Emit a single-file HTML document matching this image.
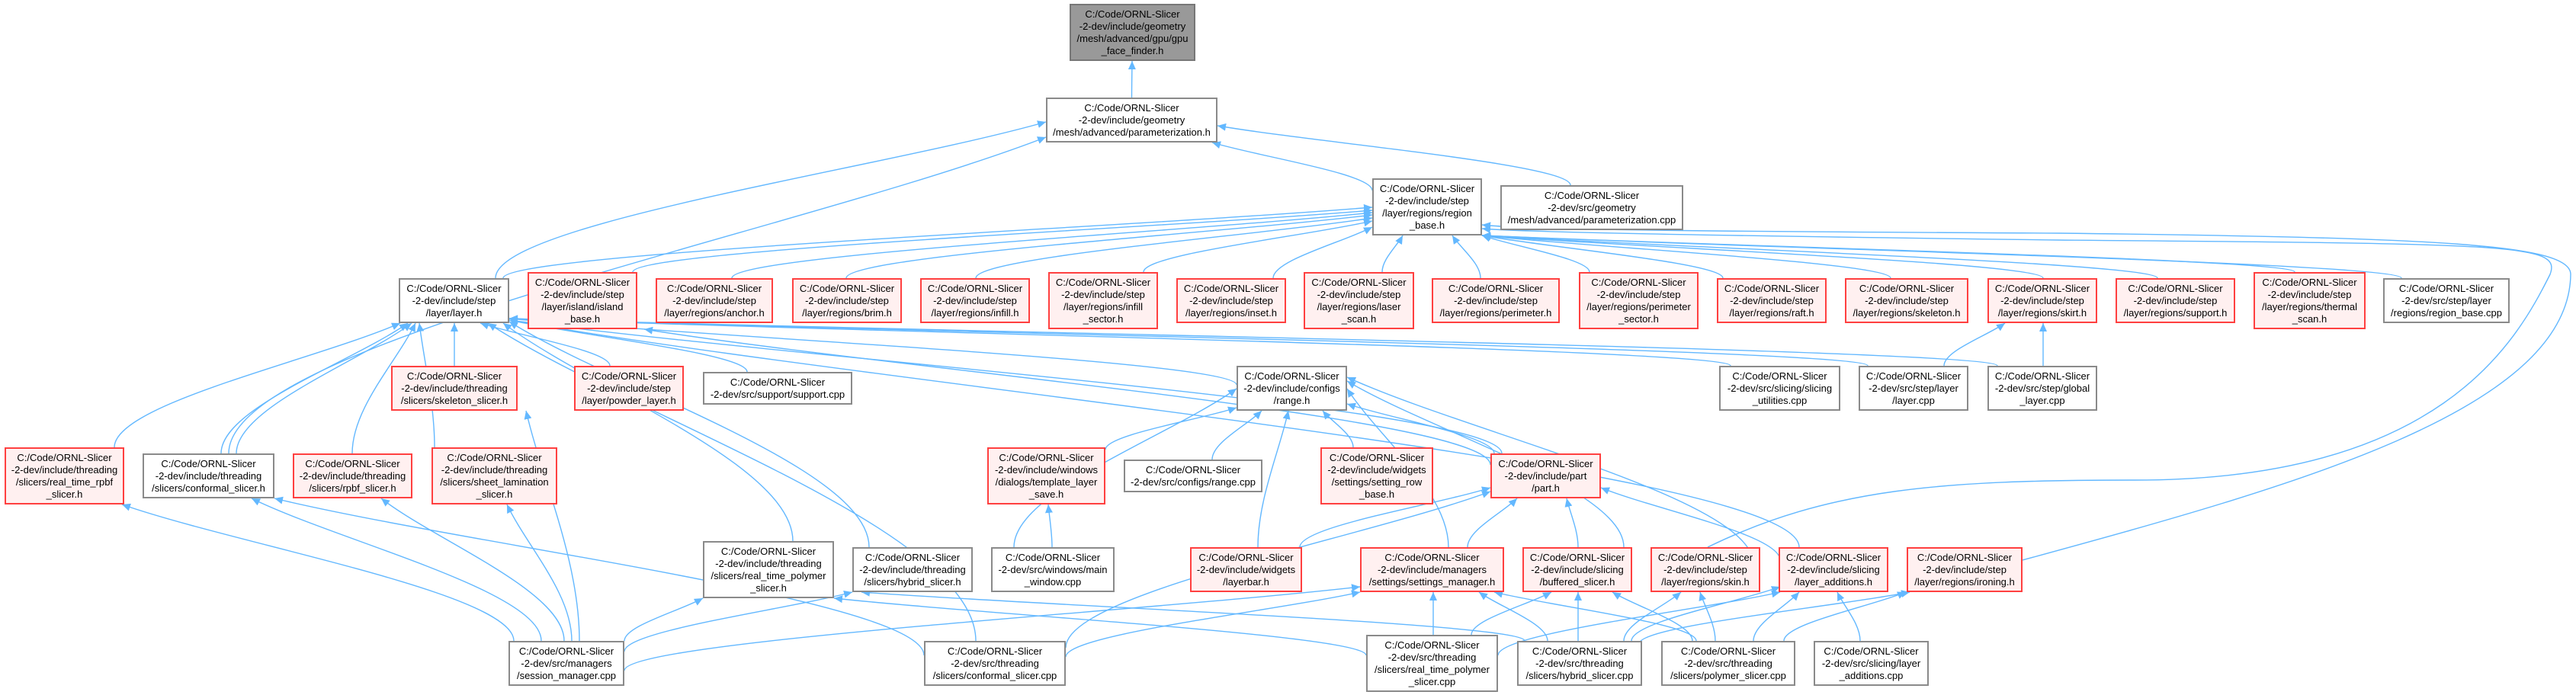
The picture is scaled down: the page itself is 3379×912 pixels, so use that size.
<!DOCTYPE html>
<html><head><meta charset="utf-8">
<style>
html,body{margin:0;padding:0;background:#fff;}
body{width:3379px;height:912px;position:relative;overflow:hidden;font-family:"Liberation Sans",Arial,sans-serif;}
svg{position:absolute;left:0;top:0;}
.n{position:absolute;box-sizing:border-box;border:2px solid #8a8a8a;background:#fff;font-size:13px;line-height:16px;color:#000;display:flex;align-items:center;justify-content:center;text-align:center;white-space:nowrap;}
.r{border-color:#ff4040;background:#fff0f0;}
.g{background:#999;border-color:#777;}
</style></head><body>
<svg id="s" width="3379" height="912" viewBox="0 0 3379 912">
<defs><marker id="a" markerWidth="12" markerHeight="12" refX="11" refY="5" orient="auto" markerUnits="userSpaceOnUse"><path d="M0,0 L11,5 L0,10 z" fill="#63b8ff"/></marker></defs>
<g id="e" fill="none" stroke="#63b8ff" stroke-width="1.4"></g>
</svg>
<div class="n g" style="left:1403px;top:5px;width:165px;height:75px">C:/Code/ORNL-Slicer<br>-2-dev/include/geometry<br>/mesh/advanced/gpu/gpu<br>_face_finder.h</div>
<div class="n" style="left:1372px;top:128px;width:225px;height:59px">C:/Code/ORNL-Slicer<br>-2-dev/include/geometry<br>/mesh/advanced/parameterization.h</div>
<div class="n" style="left:1800px;top:234px;width:144px;height:75px">C:/Code/ORNL-Slicer<br>-2-dev/include/step<br>/layer/regions/region<br>_base.h</div>
<div class="n" style="left:1968px;top:243px;width:240px;height:59px">C:/Code/ORNL-Slicer<br>-2-dev/src/geometry<br>/mesh/advanced/parameterization.cpp</div>

<div class="n" style="left:523px;top:365px;width:145px;height:59px">C:/Code/ORNL-Slicer<br>-2-dev/include/step<br>/layer/layer.h</div>
<div class="n r" style="left:692px;top:357px;width:144px;height:75px">C:/Code/ORNL-Slicer<br>-2-dev/include/step<br>/layer/island/island<br>_base.h</div>
<div class="n r" style="left:860px;top:365px;width:154px;height:59px">C:/Code/ORNL-Slicer<br>-2-dev/include/step<br>/layer/regions/anchor.h</div>
<div class="n r" style="left:1039px;top:365px;width:144px;height:59px">C:/Code/ORNL-Slicer<br>-2-dev/include/step<br>/layer/regions/brim.h</div>
<div class="n r" style="left:1207px;top:365px;width:144px;height:59px">C:/Code/ORNL-Slicer<br>-2-dev/include/step<br>/layer/regions/infill.h</div>
<div class="n r" style="left:1375px;top:357px;width:144px;height:75px">C:/Code/ORNL-Slicer<br>-2-dev/include/step<br>/layer/regions/infill<br>_sector.h</div>
<div class="n r" style="left:1543px;top:365px;width:144px;height:59px">C:/Code/ORNL-Slicer<br>-2-dev/include/step<br>/layer/regions/inset.h</div>
<div class="n r" style="left:1710px;top:357px;width:145px;height:75px">C:/Code/ORNL-Slicer<br>-2-dev/include/step<br>/layer/regions/laser<br>_scan.h</div>
<div class="n r" style="left:1878px;top:365px;width:168px;height:59px">C:/Code/ORNL-Slicer<br>-2-dev/include/step<br>/layer/regions/perimeter.h</div>
<div class="n r" style="left:2071px;top:357px;width:157px;height:75px">C:/Code/ORNL-Slicer<br>-2-dev/include/step<br>/layer/regions/perimeter<br>_sector.h</div>
<div class="n r" style="left:2252px;top:365px;width:144px;height:59px">C:/Code/ORNL-Slicer<br>-2-dev/include/step<br>/layer/regions/raft.h</div>
<div class="n r" style="left:2420px;top:365px;width:162px;height:59px">C:/Code/ORNL-Slicer<br>-2-dev/include/step<br>/layer/regions/skeleton.h</div>
<div class="n r" style="left:2607px;top:365px;width:144px;height:59px">C:/Code/ORNL-Slicer<br>-2-dev/include/step<br>/layer/regions/skirt.h</div>
<div class="n r" style="left:2775px;top:365px;width:157px;height:59px">C:/Code/ORNL-Slicer<br>-2-dev/include/step<br>/layer/regions/support.h</div>
<div class="n r" style="left:2956px;top:357px;width:147px;height:75px">C:/Code/ORNL-Slicer<br>-2-dev/include/step<br>/layer/regions/thermal<br>_scan.h</div>
<div class="n" style="left:3126px;top:365px;width:166px;height:59px">C:/Code/ORNL-Slicer<br>-2-dev/src/step/layer<br>/regions/region_base.cpp</div>

<div class="n r" style="left:513px;top:480px;width:166px;height:59px">C:/Code/ORNL-Slicer<br>-2-dev/include/threading<br>/slicers/skeleton_slicer.h</div>
<div class="n r" style="left:753px;top:480px;width:144px;height:59px">C:/Code/ORNL-Slicer<br>-2-dev/include/step<br>/layer/powder_layer.h</div>
<div class="n" style="left:922px;top:488px;width:196px;height:43px">C:/Code/ORNL-Slicer<br>-2-dev/src/support/support.cpp</div>
<div class="n" style="left:1622px;top:480px;width:145px;height:59px">C:/Code/ORNL-Slicer<br>-2-dev/include/configs<br>/range.h</div>
<div class="n" style="left:2255px;top:480px;width:159px;height:59px">C:/Code/ORNL-Slicer<br>-2-dev/src/slicing/slicing<br>_utilities.cpp</div>
<div class="n" style="left:2438px;top:480px;width:144px;height:59px">C:/Code/ORNL-Slicer<br>-2-dev/src/step/layer<br>/layer.cpp</div>
<div class="n" style="left:2607px;top:480px;width:144px;height:59px">C:/Code/ORNL-Slicer<br>-2-dev/src/step/global<br>_layer.cpp</div>

<div class="n r" style="left:6px;top:587px;width:157px;height:75px">C:/Code/ORNL-Slicer<br>-2-dev/include/threading<br>/slicers/real_time_rpbf<br>_slicer.h</div>
<div class="n" style="left:187px;top:595px;width:173px;height:59px">C:/Code/ORNL-Slicer<br>-2-dev/include/threading<br>/slicers/conformal_slicer.h</div>
<div class="n r" style="left:384px;top:595px;width:157px;height:59px">C:/Code/ORNL-Slicer<br>-2-dev/include/threading<br>/slicers/rpbf_slicer.h</div>
<div class="n r" style="left:566px;top:587px;width:165px;height:75px">C:/Code/ORNL-Slicer<br>-2-dev/include/threading<br>/slicers/sheet_lamination<br>_slicer.h</div>
<div class="n r" style="left:1295px;top:587px;width:155px;height:75px">C:/Code/ORNL-Slicer<br>-2-dev/include/windows<br>/dialogs/template_layer<br>_save.h</div>
<div class="n" style="left:1474px;top:603px;width:182px;height:43px">C:/Code/ORNL-Slicer<br>-2-dev/src/configs/range.cpp</div>
<div class="n r" style="left:1732px;top:587px;width:148px;height:75px">C:/Code/ORNL-Slicer<br>-2-dev/include/widgets<br>/settings/setting_row<br>_base.h</div>
<div class="n r" style="left:1955px;top:595px;width:145px;height:59px">C:/Code/ORNL-Slicer<br>-2-dev/include/part<br>/part.h</div>

<div class="n" style="left:922px;top:710px;width:172px;height:75px">C:/Code/ORNL-Slicer<br>-2-dev/include/threading<br>/slicers/real_time_polymer<br>_slicer.h</div>
<div class="n" style="left:1118px;top:718px;width:158px;height:59px">C:/Code/ORNL-Slicer<br>-2-dev/include/threading<br>/slicers/hybrid_slicer.h</div>
<div class="n" style="left:1300px;top:718px;width:162px;height:59px">C:/Code/ORNL-Slicer<br>-2-dev/src/windows/main<br>_window.cpp</div>
<div class="n r" style="left:1561px;top:718px;width:147px;height:59px">C:/Code/ORNL-Slicer<br>-2-dev/include/widgets<br>/layerbar.h</div>
<div class="n r" style="left:1784px;top:718px;width:189px;height:59px">C:/Code/ORNL-Slicer<br>-2-dev/include/managers<br>/settings/settings_manager.h</div>
<div class="n r" style="left:1997px;top:718px;width:144px;height:59px">C:/Code/ORNL-Slicer<br>-2-dev/include/slicing<br>/buffered_slicer.h</div>
<div class="n r" style="left:2165px;top:718px;width:144px;height:59px">C:/Code/ORNL-Slicer<br>-2-dev/include/step<br>/layer/regions/skin.h</div>
<div class="n r" style="left:2333px;top:718px;width:144px;height:59px">C:/Code/ORNL-Slicer<br>-2-dev/include/slicing<br>/layer_additions.h</div>
<div class="n r" style="left:2501px;top:718px;width:152px;height:59px">C:/Code/ORNL-Slicer<br>-2-dev/include/step<br>/layer/regions/ironing.h</div>

<div class="n" style="left:667px;top:841px;width:152px;height:59px">C:/Code/ORNL-Slicer<br>-2-dev/src/managers<br>/session_manager.cpp</div>
<div class="n" style="left:1212px;top:841px;width:186px;height:59px">C:/Code/ORNL-Slicer<br>-2-dev/src/threading<br>/slicers/conformal_slicer.cpp</div>
<div class="n" style="left:1792px;top:833px;width:173px;height:75px">C:/Code/ORNL-Slicer<br>-2-dev/src/threading<br>/slicers/real_time_polymer<br>_slicer.cpp</div>
<div class="n" style="left:1990px;top:841px;width:164px;height:59px">C:/Code/ORNL-Slicer<br>-2-dev/src/threading<br>/slicers/hybrid_slicer.cpp</div>
<div class="n" style="left:2179px;top:841px;width:176px;height:59px">C:/Code/ORNL-Slicer<br>-2-dev/src/threading<br>/slicers/polymer_slicer.cpp</div>
<div class="n" style="left:2379px;top:841px;width:151px;height:59px">C:/Code/ORNL-Slicer<br>-2-dev/src/slicing/layer<br>_additions.cpp</div>

<script>
var N={gpu:[1403,5,1568,80],ph:[1372,128,1597,187],rb:[1800,234,1944,309],pc:[1968,243,2208,302],
layer:[523,365,668,424],island:[692,357,836,432],anchor:[860,365,1014,424],brim:[1039,365,1183,424],infill:[1207,365,1351,424],infs:[1375,357,1519,432],inset:[1543,365,1687,424],laser:[1710,357,1855,432],perim:[1878,365,2046,424],pers:[2071,357,2228,432],raft:[2252,365,2396,424],skel:[2420,365,2582,424],skirt:[2607,365,2751,424],supp:[2775,365,2932,424],therm:[2956,357,3103,432],rbc:[3126,365,3292,424],
skels:[513,480,679,539],powder:[753,480,897,539],suppc:[922,488,1118,531],range:[1622,480,1767,539],su:[2255,480,2414,539],lcpp:[2438,480,2582,539],gl:[2607,480,2751,539],
rtr:[6,587,163,662],confh:[187,595,360,654],rpbf:[384,595,541,654],sheet:[566,587,731,662],tmpl:[1295,587,1450,662],rcpp:[1474,603,1656,646],srow:[1732,587,1880,662],part:[1955,595,2100,654],
rtph:[922,710,1094,785],hyh:[1118,718,1276,777],mw:[1300,718,1462,777],lbar:[1561,718,1708,777],sm:[1784,718,1973,777],buf:[1997,718,2141,777],skin:[2165,718,2309,777],la:[2333,718,2477,777],iron:[2501,718,2653,777],
sess:[667,841,819,900],confc:[1212,841,1398,900],rtpc:[1792,833,1965,908],hyc:[1990,841,2154,900],polc:[2179,841,2355,900],lac:[2379,841,2530,900]};
function cx(n){return (N[n][0]+N[n][2])/2}
var E=[
['ph','gpu',0,0,1485,80],
['layer','ph',650,365,1372,160],['confh','ph',300,595,1372,180],['rb','ph',1800,250,1590,187],['pc','ph',2060,243,1597,165],
['layer','rb',660,365,1800,272],['island','rb',830,357,1800,276],['anchor','rb',960,365,1800,279],['brim','rb',1110,365,1800,282],['infill','rb',1280,365,1800,286],['infs','rb',1500,357,1800,290],['inset','rb',1670,365,1800,298],['laser','rb',1813,357,1840,309],['perim','rb',1942,365,1905,309],['pers','rb',2085,357,1944,309],['raft','rb',2260,365,1944,309],['skel','rb',2480,365,1944,309],['skirt','rb',2680,365,1944,309],['supp','rb',2830,365,1944,309],['therm','rb',3010,357,1944,309],['rbc','rb',3150,365,1944,309],
['rtr','layer',150,587,525,424],['confh','layer',290,595,535,424],['confh','layer',310,595,540,424],['rpbf','layer',462,595,545,424],['skels','layer',596,480,596,424],['sheet','layer',570,587,550,424],['powder','layer',800,480,630,424],['suppc','layer',980,488,668,420],['range','layer',1622,505,668,418],['su','layer',2270,480,668,418],['lcpp','layer',2450,480,668,418],['gl','layer',2620,480,668,418],['rtph','layer',1040,710,660,424],['hyh','layer',1140,718,668,422],['confc','layer',1280,841,640,424],['part','layer',1970,595,668,420],['la','layer',2360,718,668,420],['part','island',1955,610,845,432],
['lcpp','skirt',2550,480,2630,424],['gl','skirt',2680,480,2680,424],
['tmpl','range',1450,590,1622,535],['rcpp','range',1590,603,1655,539],['srow','range',1775,587,1735,539],['part','range',1960,595,1767,530],['mw','range',1330,718,1622,510],['lbar','range',1650,718,1690,539],['sm','range',1900,718,1767,510],['buf','range',2130,718,1767,500],['la','range',2300,740,1767,495],
['mw','tmpl',1380,718,1375,662],
['lbar','part',1705,718,1955,640],['sm','part',1925,718,1990,654],['buf','part',2070,718,2055,654],['la','part',2335,735,2100,640],['confc','part',1398,850,1955,645],
['sess','sm',819,880,1784,770],['confc','sm',1398,862,1784,777],['rtpc','sm',1880,833,1880,777],['hyc','sm',2030,841,1940,777],['polc','sm',2225,841,1960,777],
['rtpc','buf',1930,833,2035,777],['hyc','buf',2070,841,2070,777],['polc','buf',2220,841,2115,777],
['hyc','skin',2130,841,2205,777],['polc','skin',2250,841,2230,777],
['hyc','la',2140,841,2335,770],['polc','la',2300,841,2360,777],['lac','la',2440,841,2410,777],['rtpc','la',1965,860,2335,777],
['hyc','iron',2150,845,2505,777],['polc','iron',2340,841,2500,777],
['sess','rtr',674,841,160,662],['sess','confh',710,841,330,654],['sess','rpbf',740,841,500,654],['sess','sheet',750,841,665,662],['sess','skels',760,841,690,539],['sess','rtph',819,841,922,785],['sess','hyh',819,855,1118,777],
['confc','confh',1212,860,360,654],['rtpc','rtph',1792,860,1094,785],['hyc','hyh',2000,841,1130,777]
];
var g=document.getElementById('e'),h='';
E.forEach(function(e){var sx=e[2]||cx(e[0]),sy=e[3]||N[e[0]][1],ex=e[4],ey=e[5];
var c1x=sx,c1y=sy+(ey-sy)*0.35,c2x=ex+(sx-ex)*0.3,c2y=ey+(sy-ey)*0.3;
h+='<path d="M'+sx+','+sy+' C'+c1x+','+c1y+' '+c2x+','+c2y+' '+ex+','+ey+'" marker-end="url(#a)"/>';});
h+='<path d="M2240,718 C2400,640 2550,630 2800,630 C3200,630 3300,450 3345,360 C3360,320 3300,320 2700,315 C2300,310 2000,305 1944,300" marker-end="url(#a)"/>';
h+='<path d="M2653,735 C3000,640 3370,540 3372,360 C3372,320 3200,312 2700,306 C2300,304 2000,302 1944,295" marker-end="url(#a)"/>';
g.innerHTML=h;
</script>
</body></html>
